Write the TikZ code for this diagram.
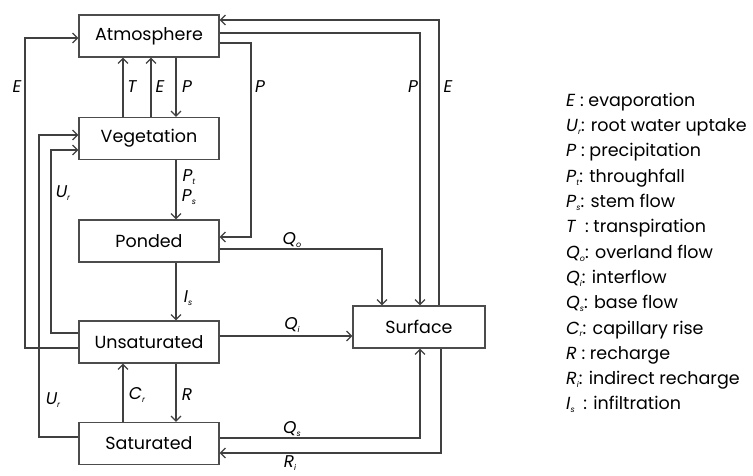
\documentclass[tikz,border=0pt]{standalone}
\usepackage{fontspec}
\setmainfont{Poppins}
\usetikzlibrary{arrows.meta}

\newcommand\flux[2]{\textit{#1}\raisebox{-0.3ex}{\fontsize{8}{8}\selectfont\itshape #2}}

\begin{document}
\begin{tikzpicture}[x=1pt,y=-1pt,
  store/.style={draw=black!70,line width=1.2pt,minimum width=140pt,
    minimum height=42pt,inner sep=0pt,font=\fontsize{17.5}{20}\selectfont},
  flow/.style={draw=black!75,line width=1.2pt,
    -{Straight Barb[length=5pt,width=10pt]}},
  lbl/.style={inner sep=0pt,font=\fontsize{17}{20}\selectfont\itshape}]
  \useasboundingbox (0,0) rectangle (753,475);
  % stores
  \node[store] (atm) at (149,36) {Atmosphere};
  \node[store] (veg) at (149,138.5) {Vegetation};
  \node[store] (pond) at (149,241) {Ponded};
  \node[store] (unsat) at (149,342) {Unsaturated};
  \node[store] (sat) at (149,443.5) {Saturated};
  \node[store,minimum width=132pt] (surf) at (419,327) {Surface};
  % bend points
  \coordinate (eleft) at (25,38);
  \coordinate (urup) at (51,150);
  \coordinate (urlow) at (39,135);
  \coordinate (ppond) at (251,237);
  % vertical exchanges in the column
  \draw[flow] ([xshift=-26pt]veg.north) -- ([xshift=-26pt]atm.south);
  \draw[flow] ([xshift=2pt]veg.north) -- ([xshift=2pt]atm.south);
  \draw[flow] ([xshift=27pt]atm.south) -- ([xshift=27pt]veg.north);
  \draw[flow] ([xshift=27pt]veg.south) -- ([xshift=27pt]pond.north);
  \draw[flow] ([xshift=27pt]pond.south) -- ([xshift=27pt]unsat.north);
  \draw[flow] ([xshift=27pt]unsat.south) -- ([xshift=27pt]sat.north);
  \draw[flow] ([xshift=-26pt]sat.north) -- ([xshift=-26pt]unsat.south);
  % left side loops
  \draw[flow] ([yshift=-6pt]unsat.west) -| (eleft) -- ([yshift=-2pt]atm.west);
  \draw[flow] ([yshift=9pt]unsat.west) -| (urup) -- ([yshift=-11.5pt]veg.west);
  \draw[flow] ([yshift=6.5pt]sat.west) -| (urlow) -- ([yshift=3.5pt]veg.west);
  % right side
  \draw[flow] ([yshift=-7pt]atm.east) -| (ppond) -- ([yshift=4pt]pond.east);
  \draw[flow] ([yshift=3pt]atm.east) -| ([xshift=1pt]surf.north);
  \draw[flow] ([xshift=20pt]surf.north) |- ([yshift=16pt]atm.east);
  \draw[flow] ([yshift=-8pt]pond.east) -| ([xshift=-37pt]surf.north);
  \draw[flow] ([yshift=6pt]unsat.east) -- ([yshift=-9pt]surf.west);
  \draw[flow] ([yshift=5.5pt]sat.east) -| ([xshift=1pt]surf.south);
  \draw[flow] ([xshift=22pt]surf.south) |- ([yshift=-9.5pt]sat.east);
  % flux labels
  \node[lbl] (lT) at (132,87) {T};
  \node[lbl] (lEv) at (160,87) {E};
  \node[lbl] (lPv) at (187,87) {P};
  \node[lbl] (lEl) at (17,87) {E};
  \node[lbl] (lPp) at (260,87) {P};
  \node[lbl] (lPs) at (413,87) {P};
  \node[lbl] (lEs) at (448,87) {E};
  \node[lbl] (lUa) at (63,193) {\flux{U}{r}};
  \node[lbl] (lUb) at (53,400) {\flux{U}{r}};
  \node[lbl] (lPt) at (189,177) {\flux{P}{t}};
  \node[lbl] (lPst) at (189,197) {\flux{P}{s}};
  \node[lbl] (lIs) at (188,298) {\flux{I}{s}};
  \node[lbl] (lCr) at (137,395) {\flux{C}{r}};
  \node[lbl] (lR) at (187,395) {R};
  \node[lbl] (lQo) at (292,240) {\flux{Q}{o}};
  \node[lbl] (lQi) at (292,325) {\flux{Q}{i}};
  \node[lbl] (lQs) at (292,429) {\flux{Q}{s}};
  \node[lbl] (lRi) at (290,463) {\flux{R}{i}};
  % key
  \node[anchor=west,align=left,inner sep=0pt,
    font=\fontsize{17.5}{25.3}\selectfont] (key) at (566,253)
    {\textit{E} : evaporation\\
     \flux{U}{r}: root water uptake\\
     \textit{P} : precipitation\\
     \flux{P}{t}: throughfall\\
     \flux{P}{s}: stem flow\\
     \textit{T}\enspace: transpiration\\
     \flux{Q}{o}: overland flow\\
     \flux{Q}{i}: interflow\\
     \flux{Q}{s}: base flow\\
     \flux{C}{r}: capillary rise\\
     \textit{R} : recharge\\
     \flux{R}{i}: indirect recharge\\
     \flux{I}{s}\enspace: infiltration};
\end{tikzpicture}
\end{document}
